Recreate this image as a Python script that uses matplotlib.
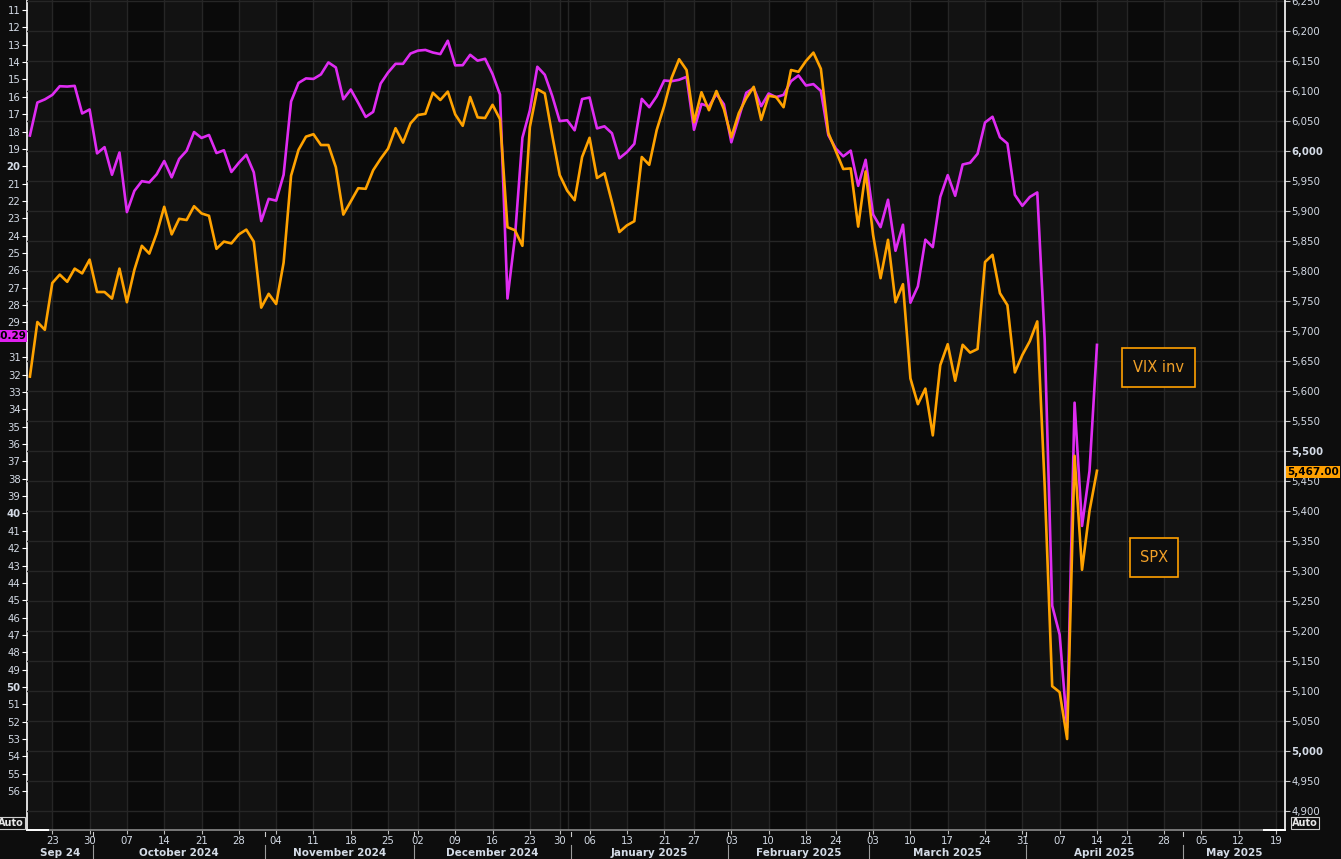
import matplotlib.pyplot as plt
import matplotlib.transforms as mtransforms
from matplotlib.patches import Rectangle
import numpy as np
import pandas as pd

# trading calendar (Jan 9 kept, it is on the chart's axis)
closed = ["2024-11-28", "2024-12-25", "2025-01-01", "2025-01-20", "2025-02-17", "2025-04-18"]
days = pd.bdate_range("2024-09-18", "2025-05-21")
days = days[~days.isin(pd.to_datetime(closed))]

# VIX (plotted on inverted left axis), Sep 18 2024 .. Apr 14 2025
vix_inv = [
    18.23, 16.33, 16.15, 15.89, 15.39, 15.41, 15.37, 16.96, 16.73,
    19.26, 18.90, 20.49, 19.21, 22.64, 21.42, 20.86, 20.93, 20.46, 19.70, 20.64, 19.58,
    19.11, 18.03, 18.37, 18.20, 19.24, 19.08, 20.33, 19.80, 19.34, 20.35, 23.16,
    21.88, 21.98, 20.49, 16.27, 15.20, 14.94, 14.97, 14.71, 14.02, 14.31,
    16.14, 15.58, 16.35, 17.16, 16.87, 15.24, 14.60, 14.10, 14.10, 13.51,
    13.34, 13.30, 13.45, 13.54, 12.77, 14.19, 14.18, 13.58, 13.92, 13.81, 14.69,
    15.87, 27.62, 24.09, 18.36, 16.78, 14.27, 14.73, 15.95, 17.40, 17.35,
    17.93, 16.13, 16.04, 17.82, 17.70, 18.10, 19.54, 19.19, 18.71, 16.12, 16.60,
    15.97, 15.06, 15.10, 15.02, 14.85, 17.90, 16.41, 16.56, 15.84, 16.43,
    18.62, 17.21, 15.77, 15.50, 16.54, 15.81, 16.02, 15.89, 15.10, 14.77,
    15.35, 15.27, 15.66, 18.21, 18.98, 19.43, 19.10, 21.13, 19.63,
    22.78, 23.51, 21.93, 24.87, 23.37, 27.86, 26.92, 24.23, 24.66, 21.77, 20.51,
    21.70, 19.90, 19.80, 19.28, 17.48, 17.15, 18.33, 18.69, 21.65, 22.28,
    21.77, 21.51, 30.02, 45.31, 46.98, 52.33, 33.62, 40.72, 37.56, 30.29,
]

# SPX (front futures) on right axis
spx = [
    5624, 5715, 5702, 5780, 5794, 5782, 5804, 5796, 5819,
    5765, 5765, 5754, 5804, 5748, 5802, 5842, 5829, 5863, 5907, 5861, 5887,
    5885, 5908, 5896, 5892, 5837, 5849, 5846, 5861, 5869, 5849, 5739,
    5762, 5745, 5814, 5959, 6002, 6024, 6028, 6010, 6010, 5973,
    5894, 5916, 5938, 5937, 5968, 5987, 6004, 6038, 6014, 6046,
    6060, 6062, 6097, 6085, 6099, 6061, 6042, 6090, 6056, 6055, 6077,
    6053, 5873, 5868, 5842, 6040, 6103, 6096, 6026, 5960, 5934,
    5918, 5990, 6022, 5955, 5963, 5915, 5865, 5876, 5883, 5990, 5977,
    6035, 6075, 6122, 6153, 6135, 6048, 6098, 6068, 6100, 6070,
    6023, 6063, 6088, 6107, 6052, 6092, 6090, 6073, 6135, 6132,
    6150, 6164, 6137, 6030, 6000, 5970, 5971, 5874, 5966,
    5860, 5788, 5852, 5748, 5778, 5621, 5578, 5604, 5526, 5643, 5678,
    5617, 5677, 5664, 5670, 5815, 5827, 5763, 5743, 5631, 5660,
    5683, 5716, 5440, 5108, 5098, 5020, 5492, 5302, 5400, 5467,
]

month_labels = ["Sep 24", "October 2024", "November 2024", "December 2024", "January 2025",
                "February 2025", "March 2025", "April 2025", "May 2025"]
vix_ticks = list(range(11, 57))
spx_ticks = list(range(4900, 6251, 50))

W, H = 1341, 859
bg = "#0d0d0d"
grid_c = "#262626"
txt_c = "#d4dbe6"
purple = "#df2cf2"
orange = "#ffa200"

plt.rcParams['font.family'] = ['DejaVu Sans']

fig = plt.figure(figsize=(W / 100, H / 100), dpi=100, facecolor=bg)
ax = fig.add_axes([27 / W, 29 / H, 1258 / W, 830 / H])
ax2 = ax.twinx()
ax.set_facecolor(bg)

pos = np.arange(len(vix_inv))
xlim = (-0.39, 168.2)
ax.set_xlim(*xlim)
ax.set_ylim(58.235, 10.424)
ax2.set_ylim(4868.3, 6251.7)

# weeks and months
wk = [i for i in range(1, len(days)) if days[i].weekday() < days[i - 1].weekday()]
ms = [i for i in range(1, len(days)) if days[i].month != days[i - 1].month]

edges = [xlim[0]] + wk + [xlim[1]]
for j in range(len(edges) - 1):
    ax.axvspan(edges[j], edges[j + 1], color="#121212" if j % 2 == 0 else "#0a0a0a", lw=0, zorder=0)
ax.axvline(72.1, color=grid_c, lw=1, zorder=1)

ax.set_xticks(wk)
ax.set_xticklabels([days[i].strftime("%d") for i in wk])
ax.grid(axis="x", color=grid_c, lw=1)
ax2.grid(axis="y", color=grid_c, lw=1)
ax2.set_axisbelow(True)

# lines
ax2.plot(pos, vix_inv, color=purple, lw=1.9, transform=ax.transData, zorder=2)
ax2.plot(pos, spx, color=orange, lw=1.9, zorder=3)

# y axes ("30" sits under the last-value tag)
ax.set_yticks(vix_ticks)
ax.set_yticklabels(["" if v == 30 else str(v) for v in vix_ticks])
for t, v in zip(ax.get_yticklabels(), vix_ticks):
    if v % 10 == 0:
        t.set_fontweight("bold")
ax2.set_yticks(spx_ticks)
ax2.set_yticklabels([f"{v:,}" for v in spx_ticks])
for t, v in zip(ax2.get_yticklabels(), spx_ticks):
    if v % 500 == 0:
        t.set_fontweight("bold")

ax.tick_params(axis="y", length=3.5, width=0.8, color="white", pad=1.2, labelsize=7.3, labelcolor=txt_c)
ax2.tick_params(axis="y", length=3.5, width=0.8, color="#cccccc", pad=1.2, labelsize=7.3, labelcolor=txt_c)
ax.tick_params(axis="x", length=3, width=0.8, color="#bbbbbb", pad=1.5, labelsize=7.3, labelcolor=txt_c)

for a in (ax, ax2):
    a.spines["top"].set_visible(False)
ax.spines["right"].set_visible(False)
ax2.spines["left"].set_visible(False)
ax2.spines["bottom"].set_visible(False)
ax.spines["left"].set_color("white")
ax.spines["left"].set_linewidth(1.2)
ax2.spines["right"].set_color("white")
ax2.spines["right"].set_linewidth(1.2)
ax.spines["bottom"].set_color("#8a8a8a")
ax.spines["bottom"].set_linewidth(1.2)
ax.plot([0, 21 / 1258], [0, 0], color="white", lw=1.4, transform=ax.transAxes, clip_on=False, zorder=5)
ax.plot([1 - 21 / 1258, 1], [0, 0], color="white", lw=1.4, transform=ax.transAxes, clip_on=False, zorder=5)

# month row
trans = mtransforms.blended_transform_factory(ax.transData, ax.transAxes)
bounds = [xlim[0]] + [m - 0.5 for m in ms] + [xlim[1]]
for j, lab in enumerate(month_labels):
    c = (bounds[j] + bounds[j + 1]) / 2
    ax.text(c, -23 / 830, lab, transform=trans, ha="center", va="center",
            fontsize=7.5, fontweight="bold", color=txt_c)
for m in ms:
    ax.plot([m - 0.5, m - 0.5], [-15 / 830, -29 / 830], transform=trans, color="#9a9a9a",
            lw=0.8, clip_on=False)
    ax.plot([m - 0.5, m - 0.5], [-2 / 830, -6 / 830], transform=trans, color="#cccccc",
            lw=0.8, clip_on=False)

# last value tags
fig.text(26 / W, 1 - 336 / H, "30.29", ha="right", va="center", fontsize=7.5, fontweight="bold",
         color="black", bbox=dict(boxstyle="square,pad=0.12", fc="#e020f0", ec="none"))
fig.text(1287 / W, 1 - 472 / H, "5,467.00", ha="left", va="center", fontsize=7.5, fontweight="bold",
         color="black", bbox=dict(boxstyle="square,pad=0.12", fc="#ffa000", ec="none"))

# Auto boxes
for xa in (11, 1305):
    fig.text(xa / W, 1 - 823 / H, "Auto", ha="center", va="center", fontsize=7, fontweight="bold",
             color="#e8e8e8", bbox=dict(boxstyle="square,pad=0.15", fc=bg, ec="#cfcfcf", lw=0.8))


def label_box(x0, y0, x1, y1, text):
    fig.add_artist(Rectangle((x0 / W, 1 - y1 / H), (x1 - x0) / W, (y1 - y0) / H,
                             transform=fig.transFigure, fc="#0d0d0d", ec="#ffa000", lw=1.2))
    fig.text((x0 + x1) / 2 / W, 1 - (y0 + y1) / 2 / H, text, ha="center", va="center",
             color="#f0a028", fontsize=10.5)


label_box(1122, 348, 1195, 387, "VIX inv")
label_box(1130, 538, 1178, 577, "SPX")

fig.savefig("out.png", dpi=100, facecolor=bg)
